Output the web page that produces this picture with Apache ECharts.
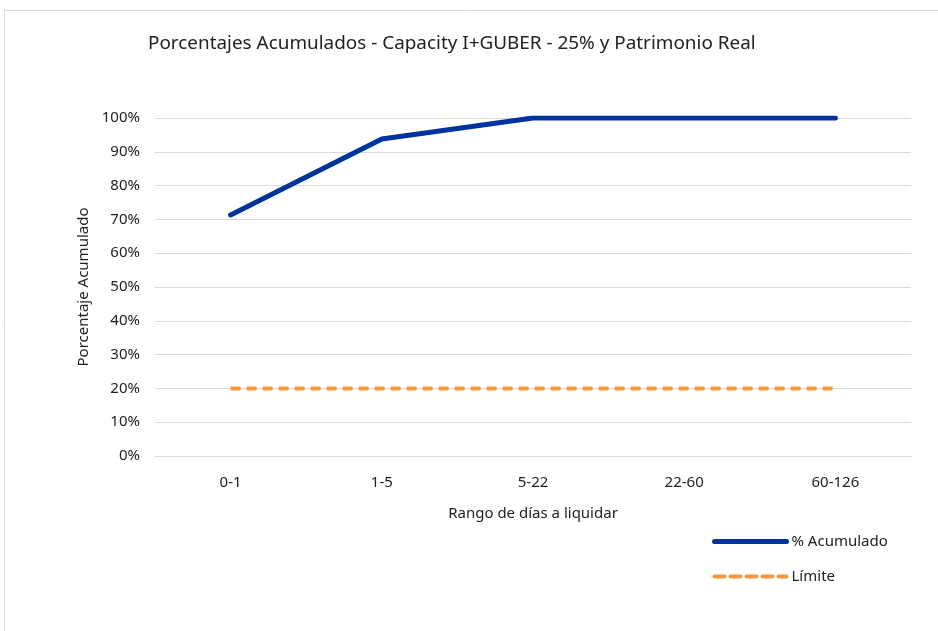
<!DOCTYPE html>
<html>
<head>
<meta charset="utf-8">
<script src="https://cdn.jsdelivr.net/npm/echarts@6/dist/echarts.min.js"></script>
<style>
  html, body { margin: 0; padding: 0; background: #fff; }
  #chart { width: 938px; height: 631px; }
</style>
</head>
<body>
<div id="chart"></div>
<script>
var categories = ['0-1', '1-5', '5-22', '22-60', '60-126'];
var acumulado = [71.3, 93.8, 100, 100, 100];
var limite = [20, 20, 20, 20, 20];

var fontName = 'Noto Sans';

var option = {
  animation: false,
  backgroundColor: '#fff',
  title: {
    text: 'Porcentajes Acumulados - Capacity I+GUBER - 25% y Patrimonio Real',
    left: 143,
    top: 29,
    textStyle: { fontFamily: fontName, fontSize: 18.9, fontWeight: 'normal', color: '#222' }
  },
  graphic: [{
    type: 'rect',
    shape: { x: 4.5, y: 10.5, width: 960, height: 640 },
    style: { fill: 'none', stroke: '#d9d9d9', lineWidth: 1 },
    silent: true
  }],
  grid: { left: 155, right: 27, top: 118, bottom: 175 },
  legend: {
    orient: 'vertical',
    left: 707,
    top: 529,
    itemWidth: 72,
    itemHeight: 14,
    itemGap: 20,
    itemStyle: { opacity: 0 },
    lineStyle: { width: 'inherit', type: 'inherit', cap: 'round' },
    textStyle: { fontFamily: fontName, fontSize: 15, color: '#222' },
    data: ['% Acumulado', 'Límite']
  },
  xAxis: {
    type: 'category',
    data: categories,
    name: 'Rango de días a liquidar',
    nameLocation: 'middle',
    nameGap: 50,
    nameTextStyle: { fontFamily: fontName, fontSize: 15, color: '#222' },
    axisLine: { lineStyle: { color: '#d9d9d9', width: 1 } },
    axisTick: { show: false },
    axisLabel: { fontFamily: fontName, fontSize: 15, color: '#222', margin: 19 }
  },
  yAxis: {
    type: 'value',
    min: 0,
    max: 100,
    interval: 10,
    name: 'Porcentaje Acumulado',
    nameLocation: 'middle',
    nameGap: 64,
    nameTextStyle: { fontFamily: fontName, fontSize: 15, color: '#222' },
    axisLine: { show: false },
    axisTick: { show: false },
    axisLabel: { formatter: '{value}%', fontFamily: fontName, fontSize: 15, color: '#222', margin: 15 },
    splitLine: { lineStyle: { color: '#d9d9d9', width: 1 } }
  },
  series: [
    {
      name: '% Acumulado',
      type: 'line',
      data: acumulado,
      symbol: 'none',
      lineStyle: { color: '#0033A0', width: 5, cap: 'round' },
      itemStyle: { color: '#0033A0' }
    },
    {
      name: 'Límite',
      type: 'line',
      data: limite,
      symbol: 'none',
      lineStyle: { color: '#F7963C', width: 4, type: [10, 6] },
      itemStyle: { color: '#F7963C' }
    }
  ]
};

echarts.init(document.getElementById('chart')).setOption(option);
</script>
</body>
</html>
